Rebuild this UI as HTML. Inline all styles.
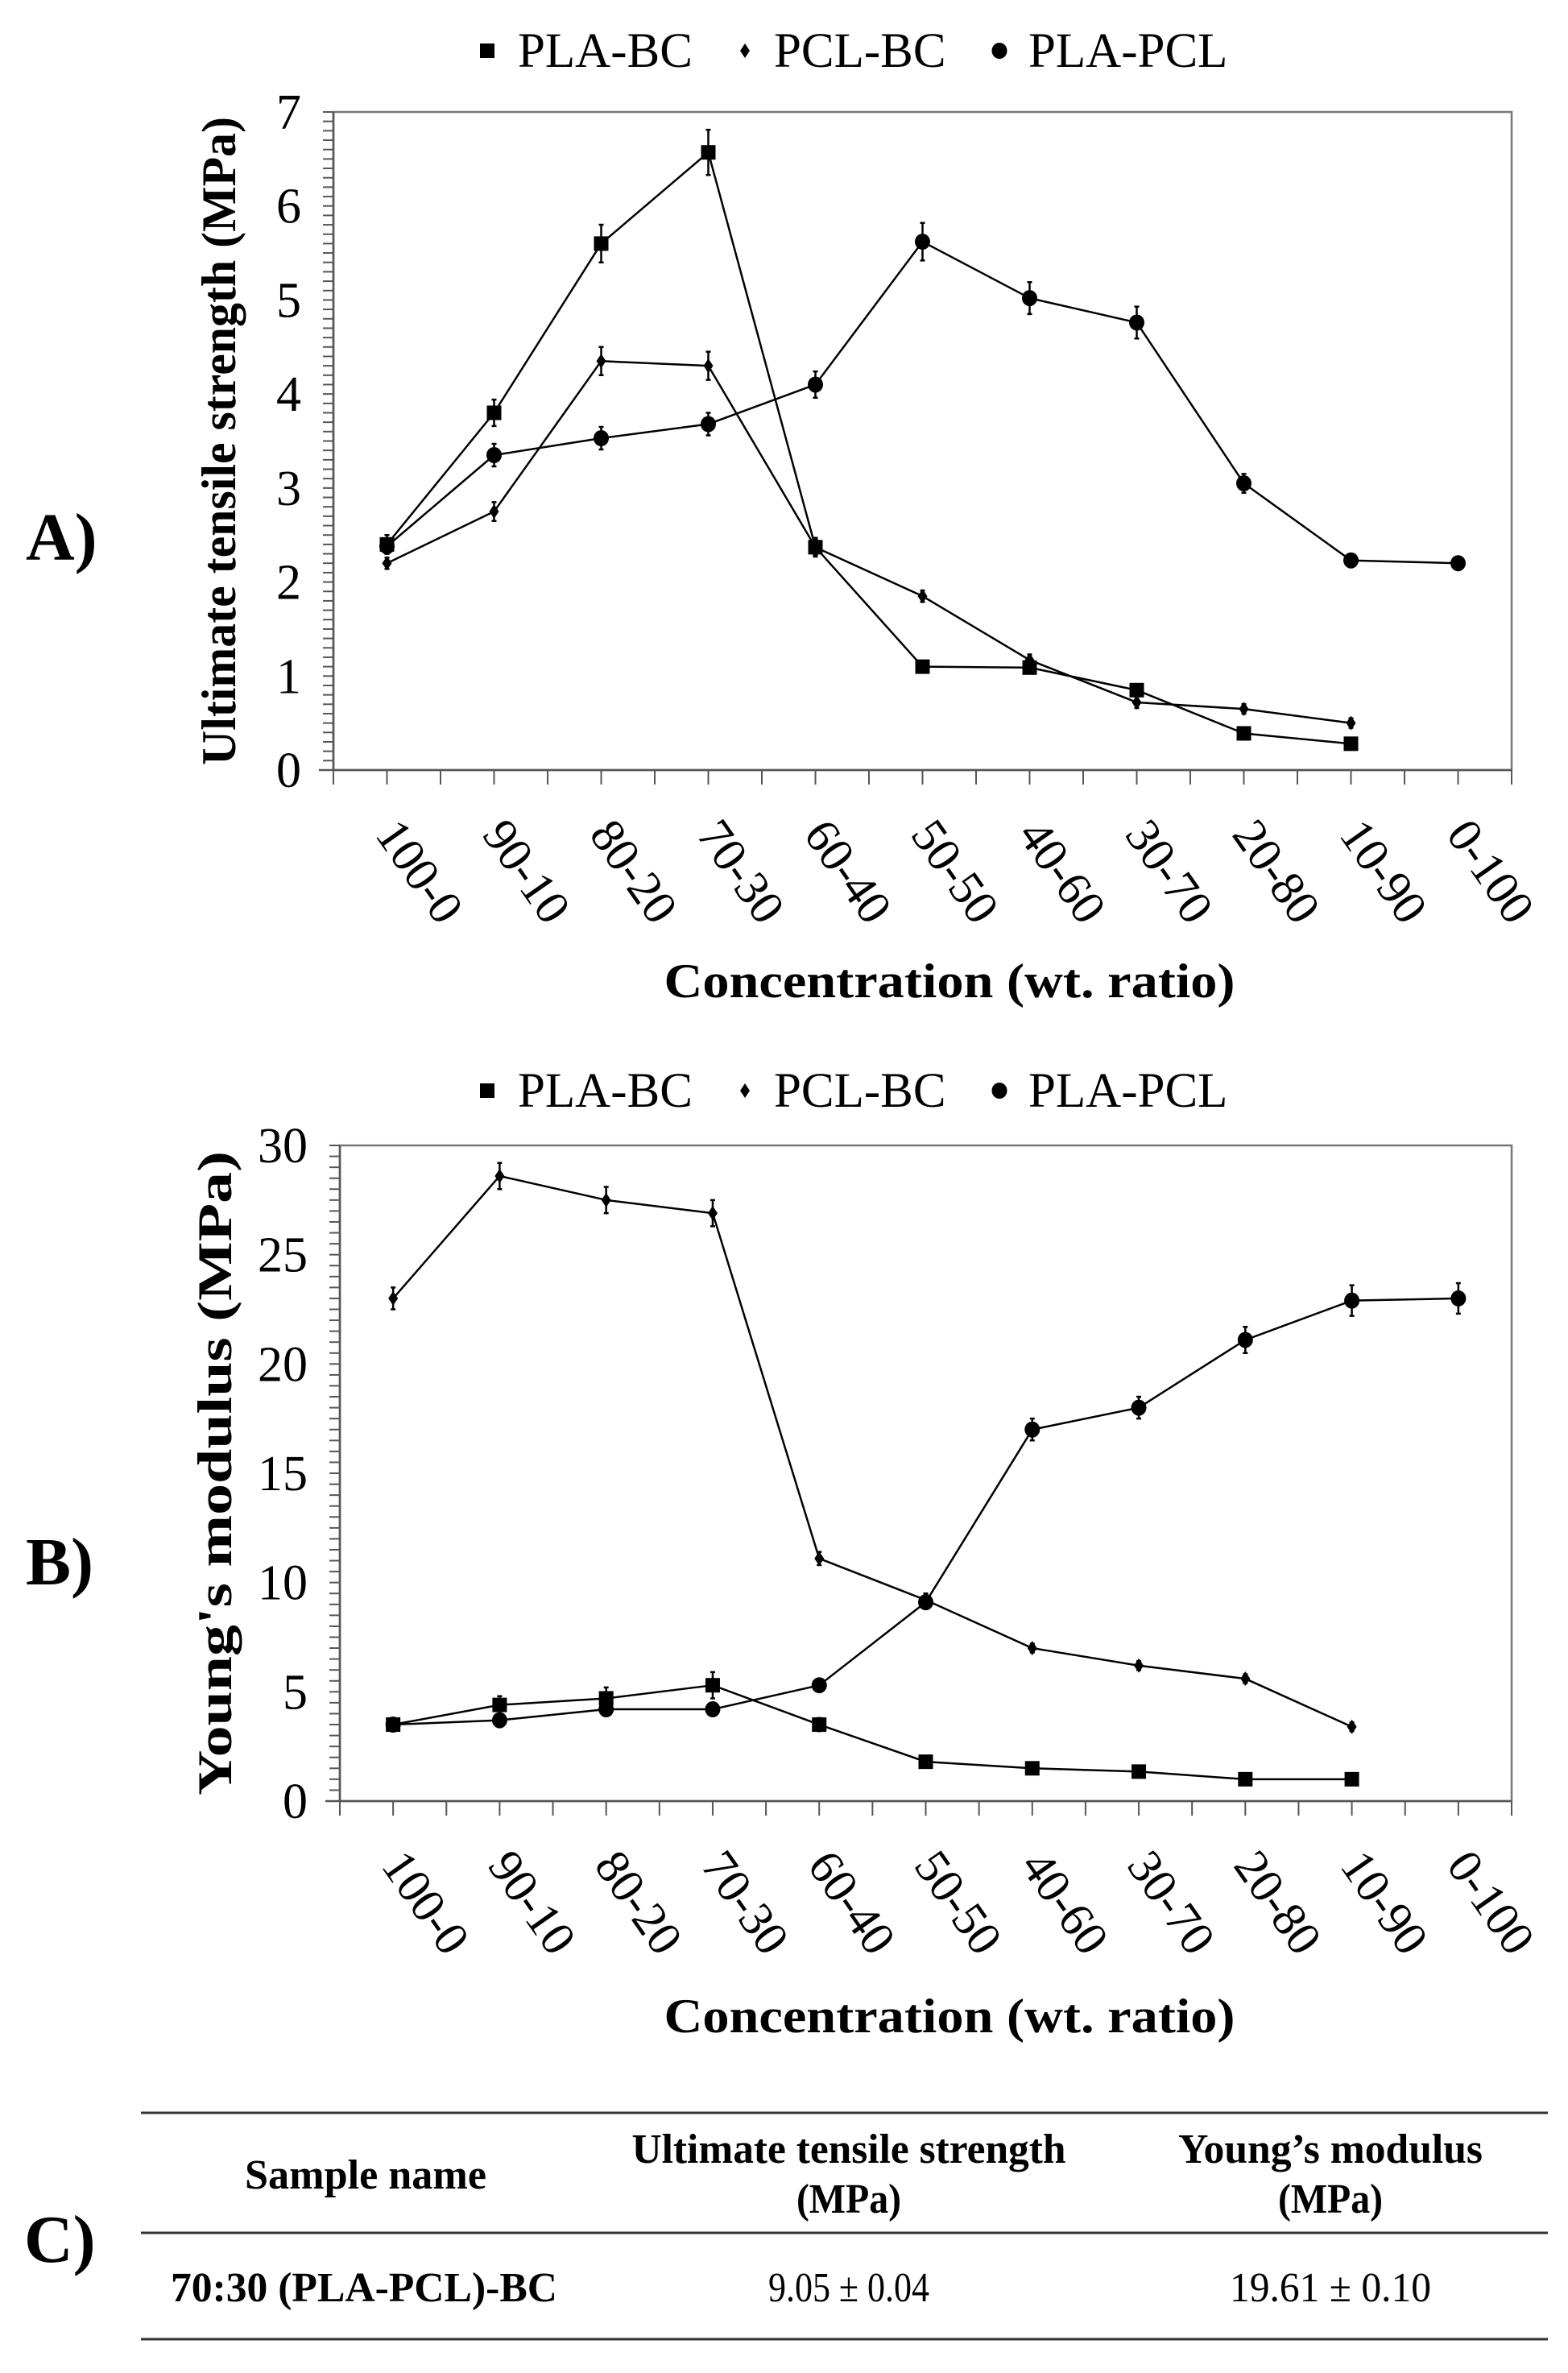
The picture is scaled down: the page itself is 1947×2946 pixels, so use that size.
<!DOCTYPE html>
<html><head><meta charset="utf-8"><style>
html,body{margin:0;padding:0;background:#fff}
svg{display:block}
text{font-family:"Liberation Serif",serif;fill:#000}
</style></head><body>
<svg id="fig" width="1947" height="2946" viewBox="0 0 1947 2946" xmlns="http://www.w3.org/2000/svg">
<g id="chartA"></g>
<g id="chartB"></g>
<g id="tableC">
  <text x="30" y="2808" font-size="84" font-weight="bold">C)</text>
  <line x1="175" y1="2623" x2="1922" y2="2623" stroke="#333" stroke-width="3"/>
  <line x1="175" y1="2772" x2="1922" y2="2772" stroke="#333" stroke-width="3"/>
  <line x1="175" y1="2904" x2="1922" y2="2904" stroke="#333" stroke-width="3"/>
  <text x="454" y="2717" font-size="52" font-weight="bold" text-anchor="middle" textLength="300" lengthAdjust="spacingAndGlyphs">Sample name</text>
  <text x="1054" y="2685" font-size="52" font-weight="bold" text-anchor="middle" textLength="539" lengthAdjust="spacingAndGlyphs">Ultimate tensile strength</text>
  <text x="1054" y="2747" font-size="52" font-weight="bold" text-anchor="middle" textLength="130" lengthAdjust="spacingAndGlyphs">(MPa)</text>
  <text x="1652" y="2685" font-size="52" font-weight="bold" text-anchor="middle" textLength="378" lengthAdjust="spacingAndGlyphs">Young’s modulus</text>
  <text x="1652" y="2747" font-size="52" font-weight="bold" text-anchor="middle" textLength="130" lengthAdjust="spacingAndGlyphs">(MPa)</text>
  <text x="452" y="2857" font-size="52" font-weight="bold" text-anchor="middle" textLength="480" lengthAdjust="spacingAndGlyphs">70:30 (PLA-PCL)-BC</text>
  <text x="1054" y="2857" font-size="52" text-anchor="middle" textLength="200" lengthAdjust="spacingAndGlyphs">9.05 ± 0.04</text>
  <text x="1652" y="2857" font-size="52" text-anchor="middle" textLength="250" lengthAdjust="spacingAndGlyphs">19.61 ± 0.10</text>
</g>
</svg>
<script>
const categories = ["100-0","90-10","80-20","70-30","60-40","50-50","40-60","30-70","20-80","10-90","0-100"];
const seriesNames = ["PLA-BC","PCL-BC","PLA-PCL"];
// Chart A: ultimate tensile strength
const utsPLABC = [2.4,3.8,5.6,6.57,2.37,1.1,1.09,0.85,0.39,0.28];
const utsPLABCerr = [0.1,0.14,0.2,0.24,0.1,0.05,0.06,0.06,0.06,0.05];
const utsPCLBC = [2.2,2.75,4.35,4.3,2.37,1.85,1.17,0.72,0.65,0.5];
const utsPCLBCerr = [0.06,0.1,0.15,0.15,0.08,0.06,0.06,0.06,0.05,0.05];
const utsPLAPCL = [2.38,3.35,3.53,3.68,4.1,5.62,5.02,4.76,3.05,2.23,2.2];
const utsPLAPCLerr = [0.08,0.12,0.12,0.12,0.14,0.2,0.17,0.17,0.1,0.05,0.05];
const utsTicks = [0,1,2,3,4,5,6,7];
// Chart B: Young's modulus
const ymPLABC = [3.5,4.4,4.7,5.3,3.5,1.8,1.5,1.35,1.0,1.0];
const ymPLABCerr = [0.3,0.4,0.5,0.6,0.3,0.2,0.2,0.2,0.2,0.2];
const ymPCLBC = [23.0,28.6,27.5,26.9,11.1,9.2,7.0,6.2,5.6,3.4];
const ymPCLBCerr = [0.5,0.6,0.6,0.6,0.3,0.3,0.2,0.2,0.2,0.2];
const ymPLAPCL = [3.5,3.7,4.2,4.2,5.3,9.1,17.0,18.0,21.1,22.9,23.0];
const ymPLAPCLerr = [0.2,0.2,0.2,0.2,0.2,0.3,0.5,0.5,0.6,0.7,0.7];
const ymTicks = [0,5,10,15,20,25,30];

const NS = "http://www.w3.org/2000/svg";
function mk(parent, tag, attrs, txt){
  const e = document.createElementNS(NS, tag);
  for (const k in attrs) e.setAttribute(k, attrs[k]);
  if (txt !== undefined) e.textContent = txt;
  parent.appendChild(e);
  return e;
}
function marker(g, shape, x, y){
  let m;
  if (shape === 0) m = mk(g,'rect',{x:x-9,y:y-9,width:18,height:18,fill:'#000'});
  else if (shape === 1) m = mk(g,'polygon',{points:`${x},${y-9} ${x+6},${y} ${x},${y+9} ${x-6},${y}`,fill:'#000'});
  else m = mk(g,'ellipse',{cx:x,cy:y,rx:9.5,ry:10,fill:'#000'});
  return m;
}
function drawChart(g, cfg){
  const {L,R,T,B,ymax,minor,ticks,series,errs,title,label,labelY,legendY,titleX,titleLen,xTitleY} = cfg;
  const n = categories.length;
  const cw = (R-L)/n;
  const xs = i => L + cw*(i+0.5);
  const ys = v => B - (v/ymax)*(B-T);
  const lg = mk(g,'g',{});
  
  
  const lx = [[605,643],[925,961],[1241,1277]];
  seriesNames.forEach((nm,k)=>{
    const it = mk(lg,'g',{});
    
    
    marker(it,k,lx[k][0],legendY-20);
    mk(it,'text',{x:lx[k][1],y:legendY,'font-size':61},nm);
  });
  const fr = mk(g,'rect',{x:L,y:T,width:R-L,height:B-T,fill:'none',stroke:'#777','stroke-width':2.5});
  
  
  const ax = mk(g,'g',{stroke:'#555','stroke-width':2.5});
  
  
  mk(ax,'line',{x1:L,y1:T,x2:L,y2:B});
  mk(ax,'line',{x1:L-18,y1:B,x2:R,y2:B});
  for (let v=0; v<=ymax+1e-9; v+=minor) mk(ax,'line',{x1:L-13,y1:ys(v),x2:L,y2:ys(v),'stroke-width':2});
  for (let k=0;k<=2*n;k++){ const x=L+k*cw/2; mk(ax,'line',{x1:x,y1:B,x2:x,y2:B+18,'stroke-width':2}); }
  ticks.forEach(t=>{
    const e = mk(g,'text',{x:L-40,y:ys(t)+21,'font-size':62,'text-anchor':'end'},String(t));
    
    
  });
  categories.forEach((c,i)=>{
    const x = xs(i)-16, y = B+80;
    const e = mk(g,'text',{x:x,y:y,'font-size':60,transform:`rotate(55 ${x} ${y})`},c);
    
    
  });
  const yt = mk(g,'text',{x:0,y:0,'font-size':60,'font-weight':'bold','text-anchor':'middle',textLength:titleLen,lengthAdjust:'spacingAndGlyphs',transform:`translate(${titleX} ${(T+B)/2}) rotate(-90)`},title);
  
  
  const xt = mk(g,'text',{x:1179,y:xTitleY,'font-size':60,'font-weight':'bold','text-anchor':'middle',textLength:709,lengthAdjust:'spacingAndGlyphs'},'Concentration (wt. ratio)');
  
  
  const pl = mk(g,'text',{x:32,y:labelY,'font-size':84,'font-weight':'bold'},label);
  
  
  series.forEach((vals,k)=>{
    const sg = mk(g,'g',{});
    
    
    const pts = vals.map((v,i)=>xs(i)+','+ys(v)).join(' ');
    const line = mk(sg,'polyline',{points:pts,fill:'none',stroke:'#000','stroke-width':2.5,'stroke-linejoin':'round'});
    
    
    vals.forEach((v,i)=>{
      const x = xs(i), e = errs[k][i];
      const eb = mk(sg,'path',{d:`M${x},${ys(v+e)}V${ys(v-e)}M${x-3},${ys(v+e)}h6M${x-3},${ys(v-e)}h6`,stroke:'#000','stroke-width':2.5,fill:'none'});
      
      
      const m = marker(sg,k,x,ys(v));
      
      
    });
  });
}
drawChart(document.getElementById('chartA'),{
  L:414,R:1877,T:139,B:956,ymax:7,minor:0.1,ticks:utsTicks,
  series:[utsPLABC,utsPCLBC,utsPLAPCL],errs:[utsPLABCerr,utsPCLBCerr,utsPLAPCLerr],
  title:'Ultimate tensile strength (MPa)',label:'A)',labelY:695,legendY:83,titleX:292,titleLen:805,xTitleY:1238
});
drawChart(document.getElementById('chartB'),{
  L:422,R:1877,T:1422,B:2236,ymax:30,minor:0.5,ticks:ymTicks,
  series:[ymPLABC,ymPCLBC,ymPLAPCL],errs:[ymPLABCerr,ymPCLBCerr,ymPLAPCLerr],
  title:"Young's modulus  (MPa)",label:'B)',labelY:1967,legendY:1374,titleX:287,titleLen:800,xTitleY:2523
});
</script>
</body></html>
